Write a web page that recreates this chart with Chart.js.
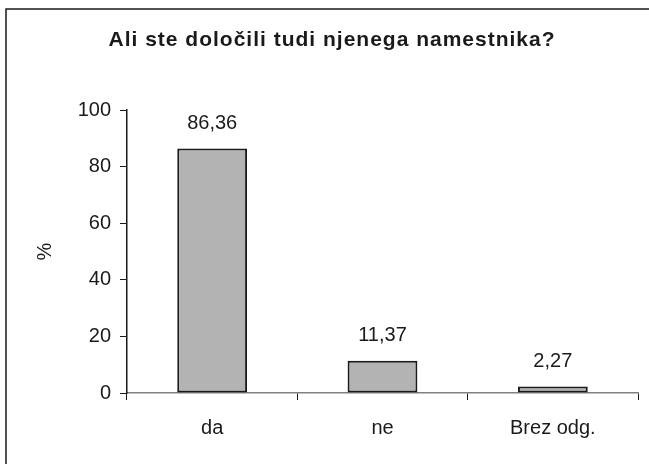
<!DOCTYPE html>
<html>
<head>
<meta charset="utf-8">
<script src="https://cdn.jsdelivr.net/npm/chart.js@4"></script>
<style>
  html, body { margin: 0; padding: 0; background: #fff; }
  #wrap { width: 649px; height: 464px; position: relative; }
</style>
</head>
<body>
<div id="wrap"><canvas id="chart"></canvas></div>
<script>
// data
const chartTitle  = 'Ali ste določili tudi njenega namestnika?';
const categories  = ['da', 'ne', 'Brez odg.'];
const values      = [86.36, 11.37, 2.27];
const valueLabels = ['86,36', '11,37', '2,27'];
const yTicks      = [0, 20, 40, 60, 80, 100];

const FONT = 'Liberation Sans, Arial, sans-serif';
const INK  = '#1a1a1a';

// outer frame + title (title has a little letter spacing, so draw it by hand)
const framePlugin = {
  id: 'frame',
  beforeDraw(chart) {
    const ctx = chart.ctx;
    ctx.save();
    ctx.fillStyle = '#fff';
    ctx.fillRect(0, 0, chart.width, chart.height);
    ctx.strokeStyle = INK;
    ctx.lineWidth = 1.5;
    ctx.strokeRect(6, 9, chart.width + 20, chart.height + 20);

    ctx.fillStyle     = INK;
    ctx.font          = 'bold 21px ' + FONT;
    ctx.letterSpacing = '1px';
    ctx.textAlign     = 'center';
    ctx.textBaseline  = 'alphabetic';
    ctx.fillText(chartTitle, 332, 46);
    ctx.restore();
  },
};

// value labels above each bar
const valueLabelPlugin = {
  id: 'valueLabels',
  afterDatasetsDraw(chart) {
    const ctx  = chart.ctx;
    const meta = chart.getDatasetMeta(0);
    ctx.save();
    ctx.fillStyle    = INK;
    ctx.font         = '20px ' + FONT;
    ctx.textAlign    = 'center';
    ctx.textBaseline = 'alphabetic';
    meta.data.forEach((bar, i) => {
      ctx.fillText(valueLabels[i], bar.x, bar.y - 20);
    });
    ctx.restore();
  },
};

new Chart(document.getElementById('chart'), {
  type: 'bar',
  data: {
    labels: categories,
    datasets: [{
      data:               values,
      backgroundColor:    '#b3b3b3',
      borderColor:        INK,
      borderWidth:        2,
      borderSkipped:      false,
      categoryPercentage: 1,
      barPercentage:      0.41,
    }],
  },
  options: {
    responsive:          true,
    maintainAspectRatio: false,
    animation:           false,
    layout: { padding: { top: 110, right: 11, bottom: 8, left: 0 } },
    plugins: {
      legend:  { display: false },
      tooltip: { enabled: false },
      title:   { display: false },
    },
    scales: {
      x: {
        grid: {
          offset:          true,
          drawOnChartArea: false,
          drawTicks:       true,
          tickLength:      7,
          color:           INK,
        },
        border: { color: '#808080', width: 1.5 },
        ticks: {
          color:   INK,
          font:    { family: FONT, size: 20 },
          padding: 16,
        },
      },
      y: {
        min: 0,
        max: 100,
        afterBuildTicks: scale => { scale.ticks = yTicks.map(v => ({ value: v })); },
        afterFit: scale => { scale.width = 127; },
        grid: {
          drawOnChartArea: false,
          drawTicks:       true,
          tickLength:      7,
          color:           INK,
        },
        border: { color: INK, width: 1.5 },
        ticks: {
          color:   INK,
          font:    { family: FONT, size: 20 },
          padding: 9,
        },
        title: {
          display: true,
          text:    '%',
          color:   INK,
          font:    { family: FONT, size: 20 },
          padding: { top: 33, bottom: 0 },
        },
      },
    },
  },
  plugins: [framePlugin, valueLabelPlugin],
});
</script>
</body>
</html>
